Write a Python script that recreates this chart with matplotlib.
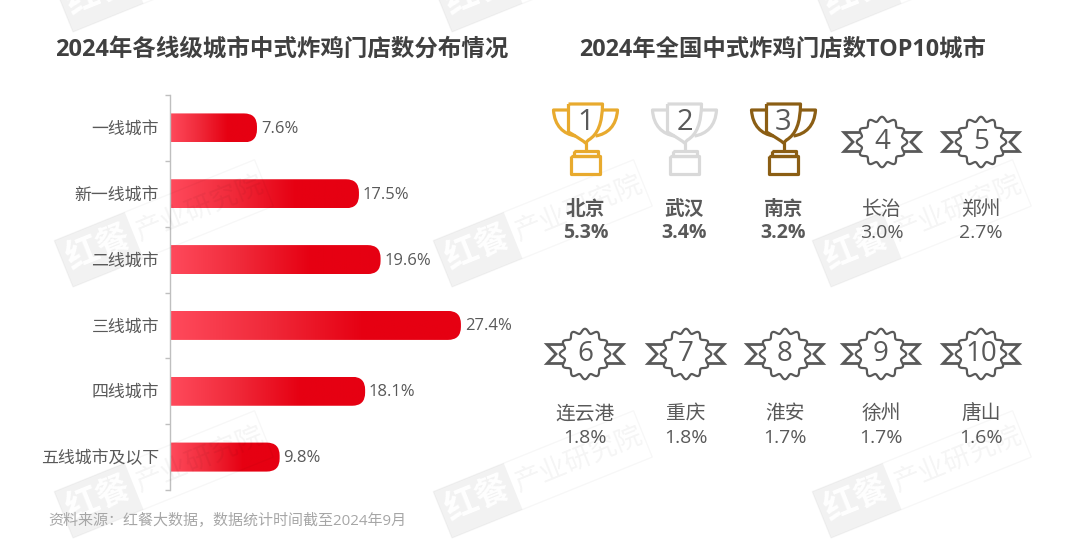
import numpy as np
import matplotlib
matplotlib.use("Agg")
import matplotlib.pyplot as plt
from matplotlib.path import Path
from matplotlib.patches import PathPatch, Polygon
from matplotlib.colors import LinearSegmentedColormap

plt.rcParams['font.family'] = ['Open Sans', 'Noto Sans CJK SC', 'DejaVu Sans']

# ---------- data ----------
tiers = ['一线城市', '新一线城市', '二线城市', '三线城市', '四线城市', '五线城市及以下']
tier_share = [7.6, 17.5, 19.6, 27.4, 18.1, 9.8]
cities = ['北京', '武汉', '南京', '长治', '郑州', '连云港', '重庆', '淮安', '徐州', '唐山']
city_share = [5.3, 3.4, 3.2, 3.0, 2.7, 1.8, 1.8, 1.7, 1.7, 1.6]
ranks = ['1', '2', '3', '4', '5', '6', '7', '8', '9', '10']
title_left = '2024年各线级城市中式炸鸡门店数分布情况'
title_right = '2024年全国中式炸鸡门店数TOP10城市'
source = '资料来源：红餐大数据，数据统计时间截至2024年9月'
wm_a, wm_b = '红餐', '产业研究院'

W, H = 1080, 559
TXT = '#595959'
fig = plt.figure(figsize=(W / 100, H / 100), dpi=100, facecolor='white')


def overlay(z):
    a = fig.add_axes([0, 0, 1, 1], zorder=z)
    a.set_xlim(0, W); a.set_ylim(H, 0); a.axis('off'); a.patch.set_alpha(0)
    return a


wm_low = overlay(0)
wm_high = overlay(3)
bg = overlay(4)

# ---------- bar chart ----------
PX_PER_UNIT = 10.3
ax_l, ax_r, ax_t, ax_b = 170, 540, 95, 490
ax = fig.add_axes([ax_l / W, 1 - ax_b / H, (ax_r - ax_l) / W, (ax_b - ax_t) / H], zorder=2)
ax.patch.set_alpha(0)
x0 = -8.7 / PX_PER_UNIT
row_px = (ax_b - ax_t) / len(tiers)

cmap = LinearSegmentedColormap.from_list('r', ['#FF4A5C', '#F02A3A', '#E60012', '#E60012'])
grad = np.linspace(0, 1, 256).reshape(1, -1)
bar_h = 29 / row_px
rx, ry = 13 / PX_PER_UNIT, 13 / row_px
for i, v in enumerate(tier_share):
    t, b = i - bar_h / 2, i + bar_h / 2
    verts = [(x0, t), (v - rx, t), (v, t), (v, t + ry), (v, b - ry), (v, b), (v - rx, b), (x0, b), (x0, t)]
    codes = [Path.MOVETO, Path.LINETO, Path.CURVE3, Path.CURVE3, Path.LINETO,
             Path.CURVE3, Path.CURVE3, Path.LINETO, Path.CLOSEPOLY]
    patch = PathPatch(Path(verts, codes), fc='none', ec='none', transform=ax.transData)
    ax.add_patch(patch)
    im = ax.imshow(grad, cmap=cmap, extent=[x0, v, b, t], aspect='auto', zorder=2)
    im.set_clip_path(patch)
    ax.annotate(f'{v:.1f}%', (v, i), xytext=(2.8, -0.7), textcoords='offset points',
                va='center', ha='left', fontsize=12, color=TXT)
ax.set_xlim(x0, x0 + (ax_r - ax_l) / PX_PER_UNIT)
ax.set_ylim(len(tiers) - 0.5, -0.5)

for s in ['top', 'right', 'bottom']:
    ax.spines[s].set_visible(False)
ax.spines['left'].set_color('#BFBFBF')
ax.spines['left'].set_linewidth(1.0)
ax.set_xticks([])
ax.set_yticks(range(len(tiers)))
ax.set_yticklabels(tiers, fontsize=12.2, color=TXT)
ax.tick_params(axis='y', which='major', length=0, pad=8)
ax.set_yticks(np.arange(-0.5, len(tiers)), minor=True)
ax.tick_params(axis='y', which='minor', length=3.5, width=1, color='#BFBFBF')

# ---------- titles and source ----------
bg.text(281.5, 50, title_left, ha='center', va='center', fontsize=16.9, fontweight='bold', color='#404040')
bg.text(782.5, 50, title_right, ha='center', va='center', fontsize=16.8, fontweight='bold', color='#404040')
bg.text(48, 522, source, ha='left', va='center', fontsize=10.8, color='#A6A6A6')


# ---------- icons ----------
def trophy(cx, color, label):
    lw = 2.3
    kw = dict(color=color, lw=lw, solid_capstyle='round', solid_joinstyle='round', zorder=3)
    cup = Path([(-17, 104), (17, 104), (17, 104), (17, 132), (3, 140), (0, 143), (-3, 140),
                (-17, 132), (-17, 104)],
               [Path.MOVETO, Path.LINETO, Path.LINETO, Path.CURVE3, Path.CURVE3, Path.LINETO,
                Path.CURVE3, Path.CURVE3, Path.LINETO])

    def add(verts, codes=None):
        v = [(cx + x, y) for x, y in verts]
        bg.add_patch(PathPatch(Path(v, codes), fc='none', ec=color, lw=lw, joinstyle='round', zorder=3))
    add(cup.vertices, cup.codes)
    c4 = [Path.MOVETO, Path.LINETO, Path.CURVE4, Path.CURVE4, Path.CURVE4]
    add([(-17, 110), (-32, 110), (-31, 126), (-22, 134), (-10, 136)], c4)
    add([(17, 110), (32, 110), (31, 126), (22, 134), (10, 136)], c4)
    bg.plot([cx, cx], [143, 151], **kw)
    add([(-12, 151), (12, 151), (12, 156), (-12, 156), (-12, 151)])
    add([(-14.5, 156), (14.5, 156), (14.5, 174), (-14.5, 174), (-14.5, 156)])
    bg.text(cx, 123, label, ha='center', va='center', fontsize=21, color=TXT, zorder=4)


def badge(cx, cy, label):
    kw = dict(color=TXT, lw=2, solid_joinstyle='miter', solid_capstyle='round', zorder=3)
    for s in (-1, 1):
        bg.plot([cx + s * 20, cx + s * 38, cx + s * 29, cx + s * 38, cx + s * 20],
                [cy - 9.5, cy - 9.5, cy, cy + 9.5, cy + 9.5], **kw)
    th = np.linspace(0, 2 * np.pi, 361)
    r = 23 + 2.2 * np.cos(12 * th)
    sx, sy = cx + r * np.sin(th), cy - r * np.cos(th)
    bg.fill(sx, sy, fc='white', ec=TXT, lw=1.6, zorder=3.5)
    bg.text(cx, cy, label, ha='center', va='center', fontsize=20, color=TXT, zorder=4)


cols_top = [585.5, 684.5, 783.5, 882, 981]
cols_bot = [585, 686, 785, 881, 981]
trophy_colors = ['#E8AA2E', '#D9D9D9', '#8B5E14']
for i, (city, share, rank) in enumerate(zip(cities, city_share, ranks)):
    top = i < 5
    cx = cols_top[i] if top else cols_bot[i - 5]
    if i < 3:
        trophy(cx, trophy_colors[i], rank)
    else:
        badge(cx, 142 if top else 354, rank)
    w = 'bold' if i < 3 else 'normal'
    bg.text(cx, 210 if top else 414, city, ha='center', va='center', fontsize=14.2, fontweight=w, color=TXT)
    bg.text(cx, 233.5 if top else 438, f'{share:.1f}%', ha='center', va='center', fontsize=14, fontweight=w, color=TXT)

# ---------- watermarks ----------
ang = np.deg2rad(22)
ux, uy = np.array([np.cos(ang), -np.sin(ang)]), np.array([np.sin(ang), np.cos(ang)])
for ax_x in (73, 452, 831):
    for ax_y in (32, 287, 538):
        o = np.array([ax_x, ax_y], float)          # bottom-left corner
        tl = o - 50 * uy
        wm_low.add_patch(Polygon([tl, tl + 76 * ux, o + 76 * ux, o], closed=True,
                                 fc='#F2F2F2', ec='none'))
        wm_high.add_patch(Polygon([tl, tl + 216 * ux, o + 216 * ux, o], closed=True, fc='none',
                                  ec='#000000', lw=1, alpha=0.03))
        p = tl + 38 * ux + 25 * uy
        wm_low.text(p[0], p[1], wm_a, rotation=22, rotation_mode='anchor', ha='center', va='center',
                    fontsize=24, fontweight='bold', color='white')
        p = tl + 146 * ux + 25 * uy
        wm_high.text(p[0], p[1], wm_b, rotation=22, rotation_mode='anchor', ha='center', va='center',
                     fontsize=19.5, color='#000000', alpha=0.045)

fig.savefig('out.png', dpi=100, facecolor='white')
